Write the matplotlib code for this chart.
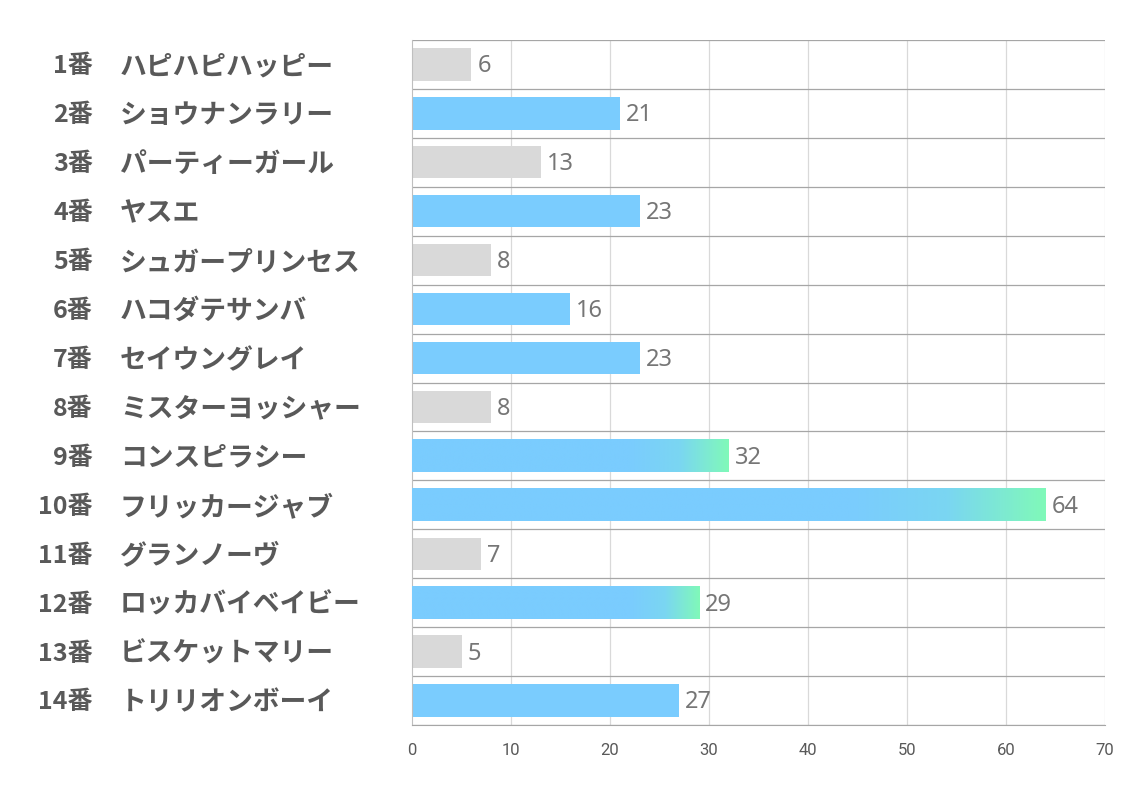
import matplotlib.pyplot as plt
import matplotlib.transforms as mtransforms
from matplotlib.colors import LinearSegmentedColormap
import numpy as np

numbers = ['1番', '2番', '3番', '4番', '5番', '6番', '7番', '8番', '9番', '10番', '11番', '12番', '13番', '14番']
names = ['ハピハピハッピー', 'ショウナンラリー', 'パーティーガール', 'ヤスエ', 'シュガープリンセス',
         'ハコダテサンバ', 'セイウングレイ', 'ミスターヨッシャー', 'コンスピラシー', 'フリッカージャブ',
         'グランノーヴ', 'ロッカバイベイビー', 'ビスケットマリー', 'トリリオンボーイ']
values = [6, 21, 13, 23, 8, 16, 23, 8, 32, 64, 7, 29, 5, 27]
popular = [False, True, False, True, False, True, True, False, True, True, False, True, False, True]

BLUE = '#7accfe'
GREEN = '#80f9b9'
GREY = '#d9d9d9'
LABEL = '#595959'
VALUE = '#767676'

plt.rcParams['font.family'] = ['Noto Sans CJK JP', 'DejaVu Sans']

fig = plt.figure(figsize=(11.34, 7.93), dpi=100)
ax = fig.add_axes([412 / 1134, 1 - 725 / 793, 693 / 1134, 685 / 793])

n = len(values)
ys = np.arange(n)
h = 0.66
cmap = LinearSegmentedColormap.from_list('bg', [BLUE, '#7ad6f2', GREEN])

for y, v, p in zip(ys, values, popular):
    if p and v >= 29:
        # whole bar drawn as an image: plain blue, then fading to green at the end
        x0 = 22 if v < 40 else 0.69 * v
        xs = np.linspace(0, v, 512)
        grad = np.clip((xs - x0) / (v - x0), 0, 1).reshape(1, -1)
        ax.imshow(grad, extent=[0, v, y + h / 2, y - h / 2], cmap=cmap, vmin=0, vmax=1,
                  aspect='auto', zorder=3, interpolation='bilinear')
    else:
        ax.barh(y, v, height=h, color=BLUE if p else GREY, zorder=2)
    ax.text(v + 0.6, y + 0.04, str(v), va='center', ha='left', fontsize=17,
            color=VALUE, family=['Noto Sans', 'DejaVu Sans'])

ax.set_xlim(0, 70)
ax.set_ylim(n - 0.5, -0.5)
ax.set_xticks(range(0, 71, 10))
ax.set_yticks([])
ax.tick_params(axis='x', length=0, pad=13, labelsize=12, labelcolor=LABEL)
for lab in ax.get_xticklabels():
    lab.set_family(['Roboto', 'DejaVu Sans'])

for x in range(10, 71, 10):
    ax.axvline(x, color='#d9d9d9', lw=0.9, zorder=1)
for b in np.arange(-0.5, n, 1.0):
    ax.axhline(b, color='#a6a6a6', lw=0.9, zorder=1)

for side in ['top', 'right']:
    ax.spines[side].set_visible(False)
ax.spines['left'].set_color('#bfbfbf')
ax.spines['bottom'].set_color('#a6a6a6')

trans = mtransforms.blended_transform_factory(fig.transFigure, ax.transData)
for y, num, name in zip(ys, numbers, names):
    ax.text(93 / 1134, y + 0.04, num, transform=trans, ha='right', va='center',
            fontsize=18, fontweight='bold', color=LABEL)
    ax.text(120 / 1134, y + 0.04, name, transform=trans, ha='left', va='center',
            fontsize=19.3, fontweight='bold', color=LABEL)

fig.savefig('out.png', dpi=100)
